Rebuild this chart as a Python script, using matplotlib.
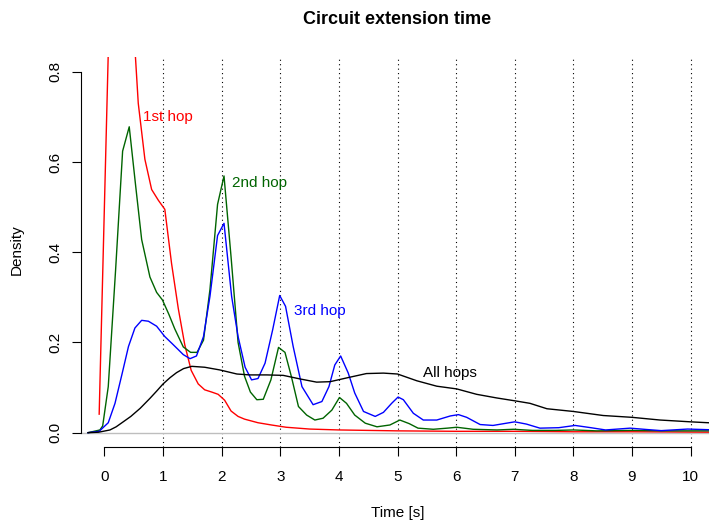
import matplotlib
matplotlib.use("Agg")
import matplotlib.pyplot as plt

plt.rcParams['font.family'] = ['Liberation Sans', 'DejaVu Sans']

# ---------------- data ----------------
hop1_x = [-0.09, 0.125, 0.24, 0.35, 0.46, 0.577, 0.69, 0.805, 0.92, 1.03, 1.145, 1.26, 1.37,
          1.48, 1.60, 1.71, 1.83, 1.94, 2.05, 2.16, 2.28, 2.39, 2.62, 2.85, 3.10, 3.50, 4.00,
          4.50, 5.00, 6.00, 7.00, 8.00, 9.00, 10.45]
hop1_y = [0.041, 1.15, 1.35, 1.20, 0.98, 0.73, 0.606, 0.539, 0.515, 0.495, 0.375, 0.275, 0.195,
          0.138, 0.108, 0.095, 0.090, 0.085, 0.072, 0.048, 0.036, 0.030, 0.022, 0.017, 0.012,
          0.008, 0.006, 0.005, 0.004, 0.003, 0.003, 0.002, 0.002, 0.001]

hop2_x = [-0.28, -0.077, -0.03, 0.065, 0.19, 0.31, 0.423, 0.53, 0.635, 0.776, 0.89, 0.99, 1.10,
          1.20, 1.345, 1.47, 1.58, 1.69, 1.80, 1.93, 2.04, 2.16, 2.28, 2.39, 2.49, 2.60, 2.71,
          2.84, 2.97, 3.08, 3.19, 3.31, 3.45, 3.59, 3.73, 3.88, 4.01, 4.13, 4.27, 4.45, 4.65,
          4.87, 5.04, 5.20, 5.35, 5.61, 5.85, 6.01, 6.29, 6.70, 6.98, 7.30, 7.70, 8.00, 8.40,
          9.00, 9.50, 10.00, 10.45]
hop2_y = [0.0, 0.006, 0.015, 0.102, 0.36, 0.624, 0.678, 0.55, 0.428, 0.345, 0.311, 0.294, 0.262,
          0.23, 0.19, 0.178, 0.178, 0.205, 0.317, 0.506, 0.569, 0.39, 0.20, 0.125, 0.09, 0.073,
          0.074, 0.117, 0.189, 0.178, 0.124, 0.058, 0.039, 0.028, 0.032, 0.05, 0.078, 0.065,
          0.039, 0.021, 0.013, 0.017, 0.028, 0.02, 0.01, 0.0075, 0.01, 0.012, 0.0075, 0.006,
          0.0075, 0.005, 0.005, 0.006, 0.004, 0.005, 0.004, 0.004, 0.004]

hop3_x = [-0.28, -0.09, 0.065, 0.18, 0.30, 0.41, 0.52, 0.635, 0.75, 0.89, 1.03, 1.15, 1.26,
          1.345, 1.46, 1.57, 1.69, 1.80, 1.93, 2.04, 2.17, 2.28, 2.40, 2.51, 2.62, 2.74, 2.87,
          2.99, 3.09, 3.22, 3.37, 3.56, 3.71, 3.83, 3.93, 4.03, 4.16, 4.27, 4.42, 4.62, 4.76,
          4.90, 5.01, 5.10, 5.27, 5.44, 5.67, 5.90, 6.04, 6.18, 6.41, 6.63, 6.86, 7.00, 7.20,
          7.43, 7.75, 8.03, 8.30, 8.55, 8.97, 9.25, 9.50, 9.95, 10.45]
hop3_y = [0.0, 0.003, 0.022, 0.065, 0.13, 0.191, 0.232, 0.249, 0.247, 0.236, 0.213, 0.198,
          0.184, 0.173, 0.164, 0.170, 0.213, 0.302, 0.437, 0.464, 0.302, 0.213, 0.145, 0.117,
          0.120, 0.154, 0.228, 0.304, 0.28, 0.191, 0.102, 0.062, 0.069, 0.102, 0.150, 0.170,
          0.132, 0.088, 0.047, 0.036, 0.045, 0.065, 0.079, 0.073, 0.043, 0.028, 0.028, 0.037,
          0.040, 0.034, 0.018, 0.016, 0.021, 0.024, 0.019, 0.01, 0.011, 0.016, 0.011, 0.006,
          0.01, 0.007, 0.0045, 0.008, 0.006]

all_x = [-0.28, -0.1, 0.094, 0.2, 0.32, 0.45, 0.61, 0.776, 0.89, 1.0, 1.12, 1.23, 1.35, 1.49,
         1.71, 1.97, 2.26, 2.48, 2.77, 3.05, 3.34, 3.62, 3.85, 4.19, 4.47, 4.76, 5.0, 5.33,
         5.67, 6.01, 6.35, 6.69, 7.03, 7.26, 7.55, 8.0, 8.51, 9.0, 9.48, 10.0, 10.45]
all_y = [0.0, 0.001, 0.006, 0.013, 0.024, 0.036, 0.054, 0.076, 0.092, 0.108, 0.122, 0.133,
         0.142, 0.147, 0.145, 0.139, 0.130, 0.128, 0.128, 0.127, 0.119, 0.112, 0.113, 0.123,
         0.131, 0.132, 0.13, 0.115, 0.103, 0.097, 0.085, 0.077, 0.070, 0.065, 0.053, 0.047,
         0.038, 0.034, 0.028, 0.024, 0.021]

labels = ["1st hop", "2nd hop", "3rd hop", "All hops"]
label_pos = [(0.66, 0.70), (2.17, 0.553), (3.24, 0.27), (5.44, 0.132)]
colors = ["#FF0000", "#006400", "#0000FF", "#000000"]

x_ticks = list(range(0, 11))
y_ticks = [0.0, 0.2, 0.4, 0.6, 0.8]
y_ticklabels = ["0.0", "0.2", "0.4", "0.6", "0.8"]
grid_x = list(range(1, 11))

# ---------------- figure ----------------
fig = plt.figure(figsize=(7.09, 5.20), dpi=100)
ax = fig.add_axes([81 / 709, (520 - 447.1) / 520, (714.0 - 81) / 709, (447.1 - 57.3) / 520])
ax.set_xlim(-0.4, 10.4)
ax.set_ylim(-0.032, 0.832)

for gx in grid_x:
    ax.axvline(gx, color="black", lw=0.8, linestyle=(0, (1, 3)), zorder=1)
ax.axhline(0, color="#BEBEBE", lw=1.0, zorder=1)

series = [(hop1_x, hop1_y), (hop2_x, hop2_y), (hop3_x, hop3_y), (all_x, all_y)]
for (sx, sy), c in zip(series, colors):
    ax.plot(sx, sy, color=c, lw=1.0, zorder=2)

for lab, (lx, ly), c in zip(labels, label_pos, colors):
    ax.text(lx, ly, lab, color=c, fontsize=11, ha="left", va="center", zorder=3)

for s in ["top", "right"]:
    ax.spines[s].set_visible(False)
ax.spines["left"].set_bounds(0, 0.8)
ax.spines["bottom"].set_bounds(0, 10)
for s in ["left", "bottom"]:
    ax.spines[s].set_linewidth(0.8)

ax.set_xticks(x_ticks)
ax.set_xticklabels([str(t) for t in x_ticks], fontsize=11)
ax.set_yticks(y_ticks)
ax.set_yticklabels(y_ticklabels, fontsize=11, rotation=90, va="center")
ax.tick_params(axis="x", direction="out", length=6.5, width=0.8, pad=10)
ax.tick_params(axis="y", direction="out", length=6.5, width=0.8, pad=7)

cx = (81 + 714.0) / 2 / 709
fig.text(cx, 1 - 19 / 520, "Circuit extension time", fontsize=13, fontweight="bold",
         ha="center", va="center")
fig.text(cx, 1 - 513 / 520, "Time [s]", fontsize=11, ha="center", va="center")
fig.text(17 / 709, 1 - 250 / 520, "Density", fontsize=11, rotation=90, ha="center", va="center")

fig.savefig("out.png", dpi=100)
